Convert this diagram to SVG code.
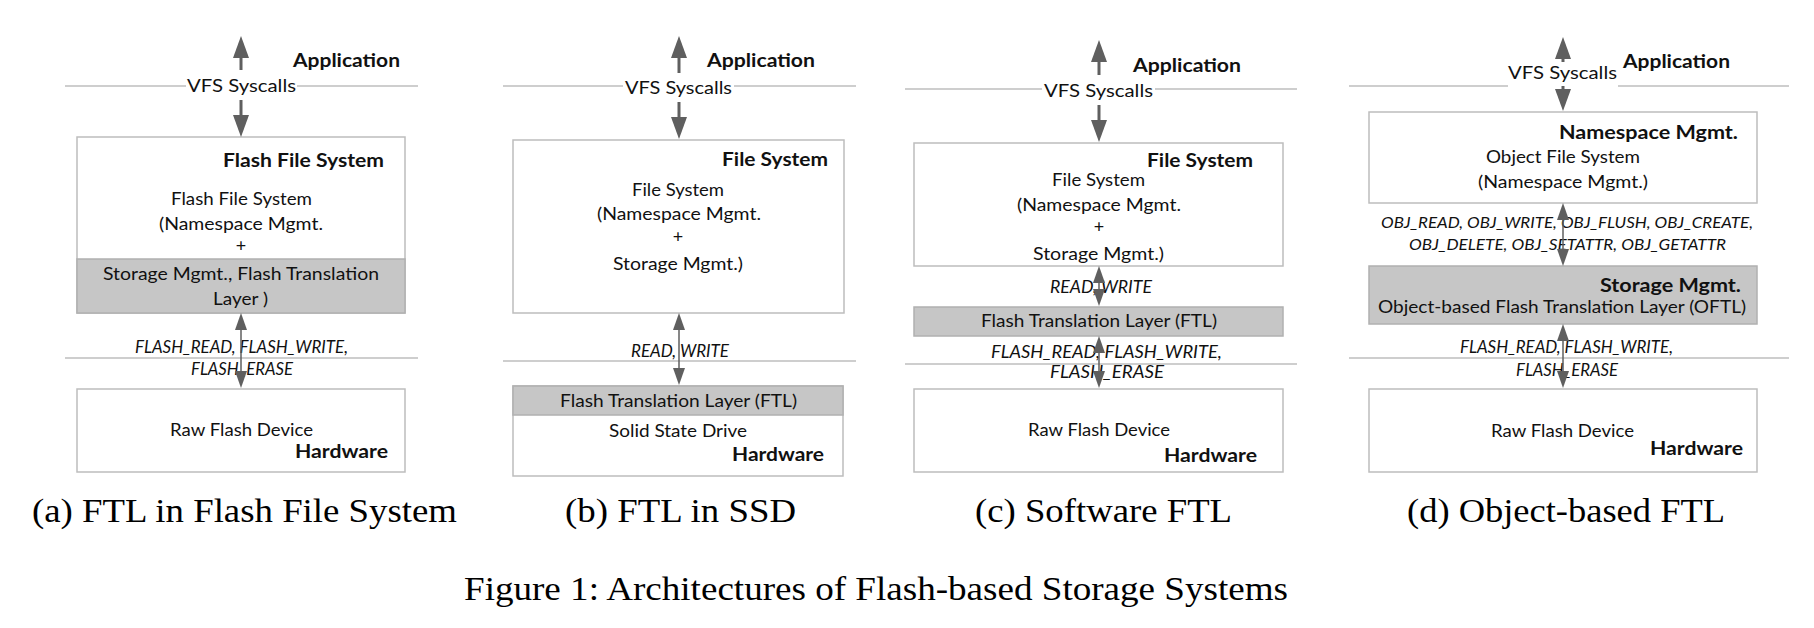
<svg xmlns="http://www.w3.org/2000/svg" width="1814" height="628" viewBox="0 0 1814 628">
<style>
.t{font-family:Lato,"Liberation Sans",sans-serif;font-size:18px;fill:#111}
.b{font-family:Lato,"Liberation Sans",sans-serif;font-size:19.5px;font-weight:bold;fill:#111}
.i{font-family:Lato,"Liberation Sans",sans-serif;font-size:17px;font-style:italic;fill:#111}
.io{font-family:Lato,"Liberation Sans",sans-serif;font-size:15.5px;font-style:italic;fill:#111}
.cap{font-family:"Liberation Serif","Times New Roman",serif;font-size:33px;fill:#000}
.box{fill:#fff;stroke:#bdbdbd;stroke-width:1.5}
.gray{fill:#c6c6c6;stroke:#b0b0b0;stroke-width:1.5}
.hl{stroke:#bfbfbf;stroke-width:1.5;fill:none}
.big{stroke:#5f5f5f;stroke-width:3;fill:none;marker-end:url(#hb)}
.sm{stroke:#5f5f5f;stroke-width:1.5;fill:none;marker-start:url(#hs);marker-end:url(#hs)}
</style>
<defs>
<marker id="hb" markerUnits="userSpaceOnUse" markerWidth="23" markerHeight="16" refX="0" refY="8" orient="auto-start-reverse" overflow="visible"><path d="M0,0 L22,8 L0,16 z" fill="#5f5f5f"/></marker>
<marker id="hs" markerUnits="userSpaceOnUse" markerWidth="18" markerHeight="12" refX="0" refY="6" orient="auto-start-reverse" overflow="visible"><path d="M0,0 L17,6 L0,12 z" fill="#5f5f5f"/></marker>
</defs>
<rect width="1814" height="628" fill="#fff"/>

<g id="layer-lines">
<path class="hl" d="M65,86H186M297,86H418M65,358H418"/>
<path class="hl" d="M503,86H623M734,86H856M503,361H856"/>
<path class="hl" d="M905,89H1042M1155,89H1297M905,364H1297"/>
<path class="hl" d="M1349,86H1508M1618,86H1789M1349,358H1789"/>
</g>

<!-- Panel a -->
<g id="a-application"><text class="b" x="293" y="67" textLength="107" lengthAdjust="spacingAndGlyphs">Application</text></g>
<g id="a-vfs"><text class="t" x="187" y="92" textLength="109" lengthAdjust="spacingAndGlyphs">VFS Syscalls</text></g>
<g id="a-ffs">
<rect class="box" x="77" y="137" width="328" height="176"/>
<rect class="gray" x="77" y="259" width="328" height="54"/>
<text class="b" x="223" y="167" textLength="161" lengthAdjust="spacingAndGlyphs">Flash File System</text>
<text class="t" x="171" y="205" textLength="141" lengthAdjust="spacingAndGlyphs">Flash File System</text>
<text class="t" x="159" y="230" textLength="164" lengthAdjust="spacingAndGlyphs">(Namespace Mgmt.</text>
<text class="t" x="241" y="252" text-anchor="middle">+</text>
<text class="t" x="103" y="280" textLength="276" lengthAdjust="spacingAndGlyphs">Storage Mgmt., Flash Translation</text>
<text class="t" x="213" y="305" textLength="55" lengthAdjust="spacingAndGlyphs">Layer )</text>
</g>
<g id="a-ops">
<text class="i" x="135" y="353" textLength="213" lengthAdjust="spacingAndGlyphs">FLASH_READ, FLASH_WRITE,</text>
<text class="i" x="191" y="375" textLength="102" lengthAdjust="spacingAndGlyphs">FLASH_ERASE</text>
</g>
<g id="a-hw">
<rect class="box" x="77" y="389" width="328" height="83"/>
<text class="t" x="170" y="436" textLength="143" lengthAdjust="spacingAndGlyphs">Raw Flash Device</text>
<text class="b" x="295" y="458" textLength="93" lengthAdjust="spacingAndGlyphs">Hardware</text>
</g>

<!-- Panel b -->
<g id="b-application"><text class="b" x="707" y="67" textLength="108" lengthAdjust="spacingAndGlyphs">Application</text></g>
<g id="b-vfs"><text class="t" x="625" y="94" textLength="107" lengthAdjust="spacingAndGlyphs">VFS Syscalls</text></g>
<g id="b-fs">
<rect class="box" x="513" y="140" width="331" height="173"/>
<text class="b" x="722" y="166" textLength="106" lengthAdjust="spacingAndGlyphs">File System</text>
<text class="t" x="632" y="196" textLength="92" lengthAdjust="spacingAndGlyphs">File System</text>
<text class="t" x="597" y="220" textLength="164" lengthAdjust="spacingAndGlyphs">(Namespace Mgmt.</text>
<text class="t" x="678" y="243" text-anchor="middle">+</text>
<text class="t" x="613" y="270" textLength="130" lengthAdjust="spacingAndGlyphs">Storage Mgmt.)</text>
</g>
<g id="b-ops"><text class="i" x="631" y="357" textLength="98" lengthAdjust="spacingAndGlyphs">READ, WRITE</text></g>
<g id="b-ssd">
<rect class="box" x="513" y="386" width="330" height="90"/>
<rect class="gray" x="513" y="386" width="330" height="29"/>
<text class="t" x="560" y="407" textLength="237" lengthAdjust="spacingAndGlyphs">Flash Translation Layer (FTL)</text>
<text class="t" x="609" y="437" textLength="138" lengthAdjust="spacingAndGlyphs">Solid State Drive</text>
<text class="b" x="732" y="461" textLength="92" lengthAdjust="spacingAndGlyphs">Hardware</text>
</g>

<!-- Panel c -->
<g id="c-application"><text class="b" x="1133" y="72" textLength="108" lengthAdjust="spacingAndGlyphs">Application</text></g>
<g id="c-vfs"><text class="t" x="1044" y="97" textLength="109" lengthAdjust="spacingAndGlyphs">VFS Syscalls</text></g>
<g id="c-fs">
<rect class="box" x="914" y="143" width="369" height="123"/>
<text class="b" x="1147" y="167" textLength="106" lengthAdjust="spacingAndGlyphs">File System</text>
<text class="t" x="1052" y="186" textLength="93" lengthAdjust="spacingAndGlyphs">File System</text>
<text class="t" x="1017" y="211" textLength="164" lengthAdjust="spacingAndGlyphs">(Namespace Mgmt.</text>
<text class="t" x="1099" y="233" text-anchor="middle">+</text>
<text class="t" x="1033" y="260" textLength="131" lengthAdjust="spacingAndGlyphs">Storage Mgmt.)</text>
</g>
<g id="c-ops1"><text class="i" x="1050" y="293" textLength="102" lengthAdjust="spacingAndGlyphs">READ, WRITE</text></g>
<g id="c-ftl">
<rect class="gray" x="914" y="307" width="369" height="29"/>
<text class="t" x="981" y="327" textLength="236" lengthAdjust="spacingAndGlyphs">Flash Translation Layer (FTL)</text>
</g>
<g id="c-ops2">
<text class="i" x="991" y="358" textLength="231" lengthAdjust="spacingAndGlyphs">FLASH_READ, FLASH_WRITE,</text>
<text class="i" x="1050" y="378" textLength="114" lengthAdjust="spacingAndGlyphs">FLASH_ERASE</text>
</g>
<g id="c-hw">
<rect class="box" x="914" y="389" width="369" height="83"/>
<text class="t" x="1028" y="436" textLength="142" lengthAdjust="spacingAndGlyphs">Raw Flash Device</text>
<text class="b" x="1164" y="462" textLength="93" lengthAdjust="spacingAndGlyphs">Hardware</text>
</g>

<!-- Panel d -->
<g id="d-application"><text class="b" x="1623" y="68" textLength="107" lengthAdjust="spacingAndGlyphs">Application</text></g>
<g id="d-vfs"><text class="t" x="1508" y="79" textLength="109" lengthAdjust="spacingAndGlyphs">VFS Syscalls</text></g>
<g id="d-ofs">
<rect class="box" x="1369" y="112" width="388" height="91"/>
<text class="b" x="1559" y="139" textLength="179" lengthAdjust="spacingAndGlyphs">Namespace Mgmt.</text>
<text class="t" x="1486" y="163" textLength="154" lengthAdjust="spacingAndGlyphs">Object File System</text>
<text class="t" x="1478" y="188" textLength="170" lengthAdjust="spacingAndGlyphs">(Namespace Mgmt.)</text>
</g>
<g id="d-ops1">
<text class="io" x="1381" y="228" textLength="372" lengthAdjust="spacingAndGlyphs">OBJ_READ, OBJ_WRITE, OBJ_FLUSH, OBJ_CREATE,</text>
<text class="io" x="1409" y="250" textLength="317" lengthAdjust="spacingAndGlyphs">OBJ_DELETE, OBJ_SETATTR, OBJ_GETATTR</text>
</g>
<g id="d-oftl">
<rect class="gray" x="1369" y="266" width="388" height="58"/>
<text class="b" x="1600" y="292" textLength="141" lengthAdjust="spacingAndGlyphs">Storage Mgmt.</text>
<text class="t" x="1378" y="313" textLength="368" lengthAdjust="spacingAndGlyphs">Object-based Flash Translation Layer (OFTL)</text>
</g>
<g id="d-ops2">
<text class="i" x="1460" y="353" textLength="213" lengthAdjust="spacingAndGlyphs">FLASH_READ, FLASH_WRITE,</text>
<text class="i" x="1516" y="376" textLength="102" lengthAdjust="spacingAndGlyphs">FLASH_ERASE</text>
</g>
<g id="d-hw">
<rect class="box" x="1369" y="389" width="388" height="83"/>
<text class="t" x="1491" y="437" textLength="143" lengthAdjust="spacingAndGlyphs">Raw Flash Device</text>
<text class="b" x="1650" y="455" textLength="93" lengthAdjust="spacingAndGlyphs">Hardware</text>
</g>

<g id="connectors">
<line class="big" x1="241" y1="70" x2="241" y2="58"/>
<line class="big" x1="241" y1="100" x2="241" y2="115"/>
<line class="sm" x1="241" y1="330" x2="241" y2="371"/>
<line class="big" x1="679" y1="73" x2="679" y2="58"/>
<line class="big" x1="679" y1="102" x2="679" y2="117"/>
<line class="sm" x1="679" y1="330" x2="679" y2="368"/>
<line class="big" x1="1099" y1="75" x2="1099" y2="62"/>
<line class="big" x1="1099" y1="105" x2="1099" y2="120"/>
<line class="sm" x1="1099" y1="283" x2="1099" y2="289"/>
<line class="sm" x1="1099" y1="353" x2="1099" y2="371"/>
<line class="big" x1="1563" y1="62" x2="1563" y2="59"/>
<line class="big" x1="1563" y1="86" x2="1563" y2="89"/>
<line class="sm" x1="1563" y1="220" x2="1563" y2="249"/>
<line class="sm" x1="1563" y1="341" x2="1563" y2="371"/>
</g>

<g id="captions">
<text class="cap" x="32" y="522" textLength="425" lengthAdjust="spacingAndGlyphs">(a) FTL in Flash File System</text>
<text class="cap" x="565" y="522" textLength="231" lengthAdjust="spacingAndGlyphs">(b) FTL in SSD</text>
<text class="cap" x="975" y="522" textLength="257" lengthAdjust="spacingAndGlyphs">(c) Software FTL</text>
<text class="cap" x="1407" y="522" textLength="318" lengthAdjust="spacingAndGlyphs">(d) Object-based FTL</text>
<text class="cap" x="464" y="600" textLength="824" lengthAdjust="spacingAndGlyphs">Figure 1: Architectures of Flash-based Storage Systems</text>
</g>
</svg>
